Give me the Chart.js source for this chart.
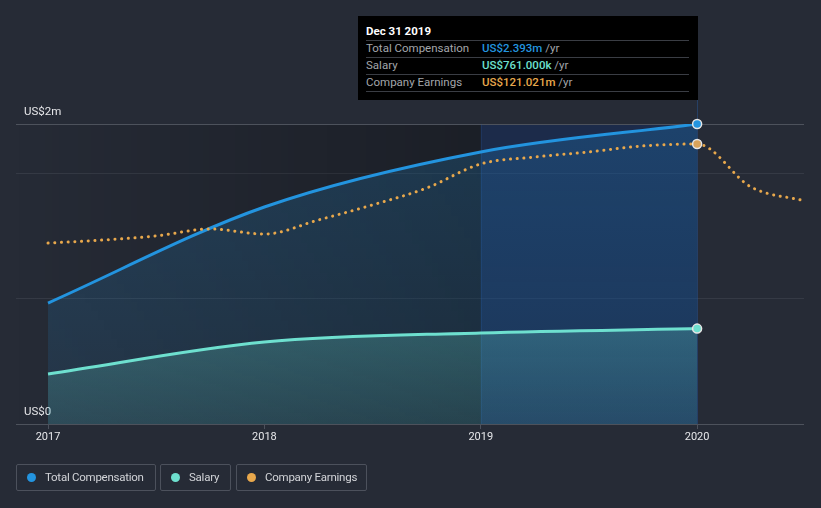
<!DOCTYPE html>
<html>
<head>
<meta charset="utf-8">
<script src="https://cdn.jsdelivr.net/npm/chart.js@4.4.1/dist/chart.umd.min.js"></script>
<style>
  html, body { margin:0; padding:0; background:#262b36; width:821px; height:508px; overflow:hidden; font-family: Roboto, "Noto Sans", sans-serif; }
  #wrap { position:relative; width:821px; height:508px; }
  canvas { position:absolute; left:0; top:0; }
  .tip { position:absolute; left:358px; top:16px; width:340px; height:84px; background:#000; }
  .tip .t { position:absolute; left:8px; top:8px; font-size:11.5px; font-weight:bold; color:#fff; line-height:14px; }
  .tip .sep { position:absolute; left:8px; width:323px; height:1px; background:#3a3d44; }
  .tip .lab { position:absolute; left:8px; font-size:11.5px; color:#a3a6ab; line-height:14px; }
  .tip .val { position:absolute; left:124px; font-size:11.5px; font-weight:500; line-height:14px; }
  .tip .val span { color:#a3a6ab; font-weight:normal; }
  .leg { position:absolute; top:464px; height:27px; border:1px solid #4c515c; border-radius:2px; box-sizing:border-box; font-size:11.5px; color:#d2d4d8; line-height:25px; }
  .leg i { position:absolute; left:10px; top:8px; width:9px; height:9px; border-radius:50%; }
  .leg b { position:absolute; left:28px; font-weight:normal; white-space:nowrap; letter-spacing:-0.25px; }
</style>
</head>
<body>
<div id="wrap">
<canvas id="c" width="821" height="508"></canvas>
<div class="tip">
  <div class="t">Dec 31 2019</div>
  <div class="sep" style="top:24px"></div>
  <div class="lab" style="top:25px">Total Compensation</div>
  <div class="val" style="top:25px;color:#2394df">US$2.393m <span>/yr</span></div>
  <div class="sep" style="top:41px"></div>
  <div class="lab" style="top:42px">Salary</div>
  <div class="val" style="top:42px;color:#6ee0cf">US$761.000k <span>/yr</span></div>
  <div class="sep" style="top:58px"></div>
  <div class="lab" style="top:59px">Company Earnings</div>
  <div class="val" style="top:59px;color:#e8a84c">US$121.021m <span>/yr</span></div>
  <div class="sep" style="top:75px"></div>
</div>
<div class="leg" style="left:16px;width:140px"><i style="background:#2394df"></i><b>Total Compensation</b></div>
<div class="leg" style="left:160px;width:71px"><i style="background:#6ee0cf"></i><b>Salary</b></div>
<div class="leg" style="left:236px;width:131px"><i style="background:#e8a84c"></i><b>Company Earnings</b></div>
</div>
<script>
// ---- data ----
const compYears = [2017, 2018, 2019, 2020];
const totalComp = [0.965, 1.731, 2.170, 2.393]; // US$m
const salary    = [0.399, 0.654, 0.726, 0.761]; // US$m
const earnYears = [2017, 2017.25, 2017.5, 2017.75, 2018, 2018.25, 2018.5, 2018.75, 2019, 2019.25, 2019.5, 2019.75, 2020, 2020.25, 2020.5];
const earnings  = [78.2, 79.5, 81.3, 84.3, 82.1, 88.2, 94.7, 102.0, 112.4, 115.4, 117.6, 120.2, 121.021, 102.4, 96.4]; // US$m
const xTicks = [2017, 2018, 2019, 2020];
const yTicks = [0, 1, 2, 2.393];
const yLabels = {0: 'US$0', 2.393: 'US$2m'};

const pts = (xs, ys) => xs.map((x, i) => ({x, y: ys[i]}));
const lastPt = r => (ctx) => (ctx.raw && ctx.raw.x === 2020) ? r : 0;

const bgPlugin = {
  id: 'bg',
  beforeDatasetsDraw(chart) {
    const {ctx, chartArea: a, scales: {x}} = chart;
    const x19 = x.getPixelForValue(2019), x20 = x.getPixelForValue(2020);
    ctx.save();
    const g = ctx.createLinearGradient(a.left, 0, x19, 0);
    g.addColorStop(0, 'rgba(0,0,0,0)');
    g.addColorStop(1, 'rgba(0,0,0,0.28)');
    ctx.fillStyle = g;
    ctx.fillRect(a.left, a.top + 1, x19 - a.left, a.bottom - a.top - 1);
    ctx.fillStyle = 'rgba(10,45,115,0.34)';
    ctx.fillRect(x19, a.top + 1, x20 - x19, a.bottom - a.top - 1);
    ctx.lineWidth = 1;
    ctx.strokeStyle = 'rgba(40,90,160,0.22)';
    ctx.beginPath();
    ctx.moveTo(Math.round(x19) + 0.5, a.top); ctx.lineTo(Math.round(x19) + 0.5, a.bottom);
    ctx.stroke();
    ctx.strokeStyle = 'rgba(40,90,160,0.45)';
    ctx.beginPath();
    ctx.moveTo(Math.round(x20) + 0.5, 100); ctx.lineTo(Math.round(x20) + 0.5, a.bottom);
    ctx.stroke();
    ctx.restore();
  }
};

const ctx = document.getElementById('c').getContext('2d');
const chart = new Chart(ctx, {
  type: 'line',
  data: {
    datasets: [
      {
        label: 'Total Compensation marker', yAxisID: 'y',
        data: pts(compYears, totalComp).slice(-1),
        showLine: false, clip: false, fill: false,
        pointRadius: 4.5, pointBackgroundColor: '#2394df', pointBorderColor: '#e6e6e6', pointBorderWidth: 1.5,
        order: -1
      },
      {
        label: 'Company Earnings', yAxisID: 'y2',
        data: pts(earnYears, earnings),
        borderColor: '#e8a84c', borderWidth: 3, borderDash: [0.1, 6.6], borderCapStyle: 'round',
        fill: false, cubicInterpolationMode: 'monotone',
        pointRadius: lastPt(4.5), pointBackgroundColor: '#d9a35a', pointBorderColor: '#e6e6e6', pointBorderWidth: 1.5,
        order: 0
      },
      {
        label: 'Salary', yAxisID: 'y',
        data: pts(compYears, salary),
        borderColor: '#6ee0cf', borderWidth: 3,
        fill: 'origin',
        backgroundColor: (c) => {
          const a = c.chart.chartArea; if (!a) return 'rgba(110,224,208,0.2)';
          const g = c.chart.ctx.createLinearGradient(0, 320, 0, a.bottom);
          g.addColorStop(0, 'rgba(100,210,200,0.28)');
          g.addColorStop(1, 'rgba(100,210,200,0.14)');
          return g;
        },
        cubicInterpolationMode: 'monotone',
        pointRadius: lastPt(4.5), pointBackgroundColor: '#6ee0cf', pointBorderColor: '#e6e6e6', pointBorderWidth: 1.5,
        order: 1
      },
      {
        label: 'Total Compensation', yAxisID: 'y',
        data: pts(compYears, totalComp),
        borderColor: '#2394df', borderWidth: 3,
        fill: 'origin',
        backgroundColor: (c) => {
          const a = c.chart.chartArea; if (!a) return 'rgba(35,148,223,0.15)';
          const g = c.chart.ctx.createLinearGradient(0, a.top, 0, a.bottom);
          g.addColorStop(0, 'rgba(35,148,223,0.22)');
          g.addColorStop(1, 'rgba(35,148,223,0.10)');
          return g;
        },
        cubicInterpolationMode: 'monotone',
        pointRadius: 0,
        order: 2
      }
    ]
  },
  options: {
    responsive: false, animation: false,
    layout: { padding: { left: 16, right: 17, top: 124, bottom: 0 } },
    plugins: { legend: { display: false }, tooltip: { enabled: false } },
    scales: {
      x: {
        type: 'linear', min: 2016.852, max: 2020.494,
        afterBuildTicks: s => { s.ticks = xTicks.map(v => ({value: v})); },
        afterFit: s => { s.height = 84; },
        grid: { drawOnChartArea: false, drawTicks: true, tickLength: 5, color: '#4c515c' },
        border: { display: false },
        ticks: { color: '#e6e7ea', padding: 2, font: { family: 'Roboto', size: 11 }, callback: v => String(v), maxRotation: 0 }
      },
      y: {
        min: 0, max: 2.393, position: 'left',
        afterBuildTicks: s => { s.ticks = yTicks.map(v => ({value: v})); },
        afterFit: s => { s.width = 0; },
        grid: { drawTicks: false, color: c => (c.tick && (c.tick.value === 0 || c.tick.value === 2.393)) ? '#4d525c' : '#353a45', lineWidth: 1 },
        border: { display: false },
        ticks: { mirror: true, padding: 8, labelOffset: -12, color: '#e6e7ea', font: { family: 'Roboto', size: 11.5 },
                 callback: v => yLabels[v] || '' }
      },
      y2: { display: false, min: 0, max: 129.67 }
    }
  },
  plugins: [bgPlugin]
});
</script>
</body>
</html>
